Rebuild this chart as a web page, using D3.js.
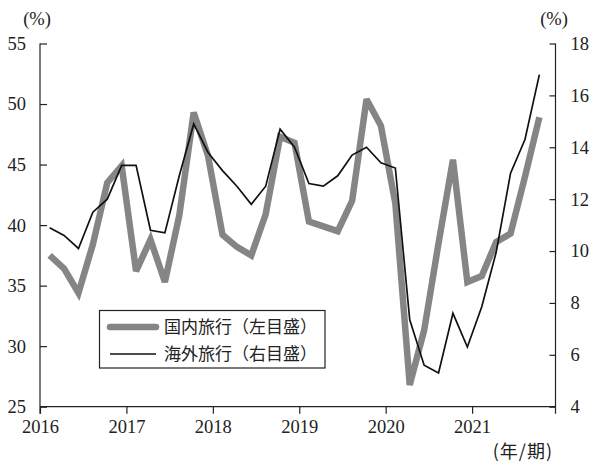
<!DOCTYPE html>
<html>
<head>
<meta charset="utf-8">
<script src="https://cdn.jsdelivr.net/npm/d3@7"></script>
<style>
  html, body { margin: 0; padding: 0; background: #fff; }
  svg { display: block; }
</style>
</head>
<body>
<svg id="chart" width="591" height="464"></svg>
<script>
// ---- data ----
const yearLabels = ["2016", "2017", "2018", "2019", "2020", "2021"];
const periodsPerYear = 6;
// 国内旅行 (left axis, %)
const domestic = [37.5, 36.4, 34.4, 38.4, 43.5, 44.9,
                  36.2, 38.8, 35.3, 40.8, 49.3, 45.7,
                  39.2, 38.2, 37.5, 40.9, 47.3, 46.8,
                  40.3, 39.9, 39.5, 42.0, 50.4, 48.2,
                  41.8, 26.8, 31.3, 38.5, 45.4, 35.3,
                  35.8, 38.6, 39.3, 44.0, 48.9];
// 海外旅行 (right axis, %)
const overseas = [10.9, 10.6, 10.1, 11.5, 12.0, 13.3,
                  13.3, 10.8, 10.7, 12.9, 14.9, 13.8,
                  13.1, 12.5, 11.8, 12.5, 14.7, 14.0,
                  12.6, 12.5, 12.9, 13.7, 14.0, 13.4,
                  13.2, 7.35, 5.6, 5.3, 7.6, 6.3,
                  7.85, 9.95, 13.0, 14.3, 16.8];
const leftTicks = [25, 30, 35, 40, 45, 50, 55];
const rightTicks = [4, 6, 8, 10, 12, 14, 16, 18];
const seriesNames = ["国内旅行（左目盛）", "海外旅行（右目盛）"];

// ---- layout ----
const svg = d3.select("#chart");
const L = 40, R = 555.5, T = 43.5, B = 406.7;
const serif = "'Liberation Serif', 'Times New Roman', serif";
const cjk = "'Noto Sans CJK JP', sans-serif";

// index-based x: first point offset from the 2016 tick
const offset = 0.67;
const x = d3.scaleLinear().domain([-offset, 35.12]).range([L, R]);
const yL = d3.scaleLinear().domain([25, 55]).range([B, T]);
const yR = d3.scaleLinear().domain([4, 18]).range([B, T]);

const yearPos = yearLabels.map((d, k) => -offset + k * periodsPerYear);

// axes
const xAxis = d3.axisBottom(x).tickValues(yearPos)
  .tickFormat((d, k) => yearLabels[k]).tickSize(7).tickSizeOuter(0).tickPadding(6);
const gx = svg.append("g").attr("transform", `translate(0,${B})`).call(xAxis);
gx.select(".domain").attr("d", `M${L},0H${R}`);

const gl = svg.append("g").attr("transform", `translate(${L},0)`)
  .call(d3.axisLeft(yL).tickValues(leftTicks).tickSize(-7).tickSizeOuter(0).tickPadding(14));
gl.select(".domain").attr("d", `M0,${T}V${B + 7}`);

const gr = svg.append("g").attr("transform", `translate(${R},0)`)
  .call(d3.axisRight(yR).tickValues(rightTicks).tickSize(-6).tickSizeOuter(0).tickPadding(15));
gr.select(".domain").attr("d", `M0,${T}V${B + 7}`);

svg.selectAll(".tick text").attr("font-family", serif).attr("font-size", 18.5).attr("fill", "#222");
svg.selectAll(".domain, .tick line").attr("stroke", "#222").attr("stroke-width", 1.2);

// lines
const lineL = d3.line().x((d, i) => x(i)).y(d => yL(d)).curve(d3.curveLinear);
const lineR = d3.line().x((d, i) => x(i)).y(d => yR(d)).curve(d3.curveLinear);

svg.append("path").datum(domestic).attr("d", lineL)
  .attr("fill", "none").attr("stroke", "#858585").attr("stroke-width", 6.5)
  .attr("stroke-linejoin", "miter").attr("stroke-miterlimit", 3);
svg.append("path").datum(overseas).attr("d", lineR)
  .attr("fill", "none").attr("stroke", "#111").attr("stroke-width", 1.7)
  .attr("stroke-linejoin", "miter");

// unit labels
svg.append("text").attr("x", 37).attr("y", 25).attr("text-anchor", "middle")
  .attr("font-family", serif).attr("font-size", 18.5).attr("fill", "#222").text("(%)");
svg.append("text").attr("x", 554).attr("y", 25).attr("text-anchor", "middle")
  .attr("font-family", serif).attr("font-size", 18.5).attr("fill", "#222").text("(%)");
svg.append("text").attr("x", 553).attr("y", 458).attr("text-anchor", "end")
  .attr("font-family", cjk).attr("font-size", 18).attr("letter-spacing", 1).attr("fill", "#222").text("(年/期)");

// legend
const lg = svg.append("g");
lg.append("rect").attr("x", 99.5).attr("y", 310.5).attr("width", 225.5).attr("height", 57.5)
  .attr("fill", "#fff").attr("stroke", "#222").attr("stroke-width", 1.2);
const legendStyles = [
  { stroke: "#858585", width: 6.5, y: 327 },
  { stroke: "#111", width: 1.7, y: 354 }
];
seriesNames.forEach((name, k) => {
  const s = legendStyles[k];
  lg.append("line").attr("x1", 110).attr("x2", 156).attr("y1", s.y).attr("y2", s.y)
    .attr("stroke", s.stroke).attr("stroke-width", s.width).attr("stroke-linecap", k === 0 ? "round" : "butt");
  lg.append("text").attr("x", 164).attr("y", s.y).attr("dy", "0.36em")
    .attr("font-family", cjk).attr("font-size", 17).attr("fill", "#222").text(name);
});
</script>
</body>
</html>
